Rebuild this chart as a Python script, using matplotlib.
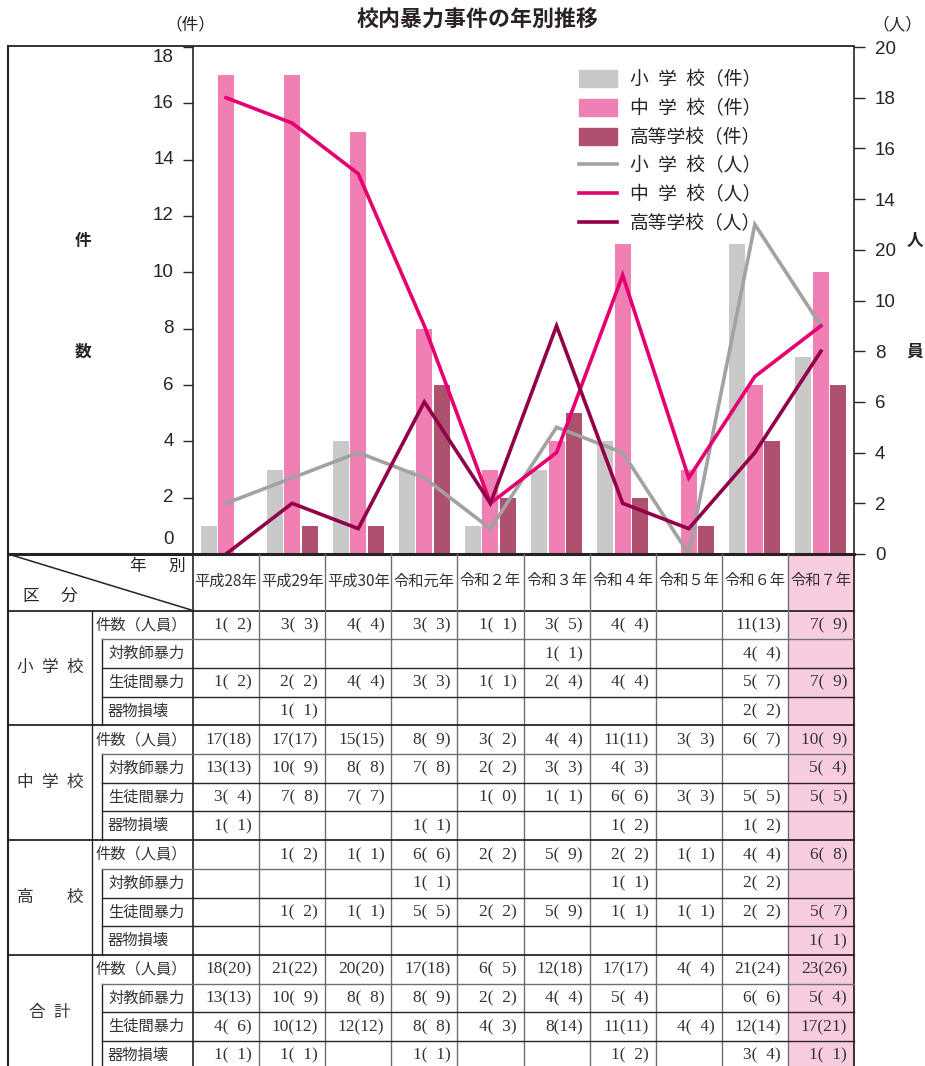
import numpy as np
import matplotlib
matplotlib.use("Agg")
import matplotlib.pyplot as plt
from matplotlib.patches import Patch, Rectangle
from matplotlib.lines import Line2D
from matplotlib.transforms import offset_copy

plt.rcParams['font.family'] = ['Noto Sans CJK JP', 'DejaVu Sans']

# ---------------- data ----------------
years = ["平成28年", "平成29年", "平成30年", "令和元年", "令和２年",
         "令和３年", "令和４年", "令和５年", "令和６年", "令和７年"]

# chart: cases (bars, left axis) and persons (lines, right axis)
elem_cases = [1, 3, 4, 3, 1, 3, 4, 0, 11, 7]
jr_cases = [17, 17, 15, 8, 3, 4, 11, 3, 6, 10]
hs_cases = [0, 1, 1, 6, 2, 5, 2, 1, 4, 6]
elem_persons = [2, 3, 4, 3, 1, 5, 4, 0, 13, 9]
jr_persons = [18, 17, 15, 9, 2, 4, 11, 3, 7, 9]
hs_persons = [0, 2, 1, 6, 2, 9, 2, 1, 4, 8]

left_ticks = [0, 2, 4, 6, 8, 10, 12, 14, 16, 18]
right_ticks = [0, 2, 4, 6, 8, 10, 12, 14, 16, 18, 20]
right_tick_labels = ["0", "2", "4", "6", "8", "10", "20", "14", "16", "18", "20"]

legend_labels = ["小\u2002学\u2002校（件）", "中\u2002学\u2002校（件）", "高等学校（件）",
                 "小\u2002学\u2002校（人）", "中\u2002学\u2002校（人）", "高等学校（人）"]

# table
groups = ["小\u2002学\u2002校", "中\u2002学\u2002校", "高\u3000\u3000校", "合\u2002計"]
sub_rows = ["件数（人員）", "対教師暴力", "生徒間暴力", "器物損壊"]
N = None
elem_tab_cases = [[1, 3, 4, 3, 1, 3, 4, N, 11, 7],
                  [N, N, N, N, N, 1, N, N, 4, N],
                  [1, 2, 4, 3, 1, 2, 4, N, 5, 7],
                  [N, 1, N, N, N, N, N, N, 2, N]]
elem_tab_persons = [[2, 3, 4, 3, 1, 5, 4, N, 13, 9],
                    [N, N, N, N, N, 1, N, N, 4, N],
                    [2, 2, 4, 3, 1, 4, 4, N, 7, 9],
                    [N, 1, N, N, N, N, N, N, 2, N]]
jr_tab_cases = [[17, 17, 15, 8, 3, 4, 11, 3, 6, 10],
                [13, 10, 8, 7, 2, 3, 4, N, N, 5],
                [3, 7, 7, N, 1, 1, 6, 3, 5, 5],
                [1, N, N, 1, N, N, 1, N, 1, N]]
jr_tab_persons = [[18, 17, 15, 9, 2, 4, 11, 3, 7, 9],
                  [13, 9, 8, 8, 2, 3, 3, N, N, 4],
                  [4, 8, 7, N, 0, 1, 6, 3, 5, 5],
                  [1, N, N, 1, N, N, 2, N, 2, N]]
hs_tab_cases = [[N, 1, 1, 6, 2, 5, 2, 1, 4, 6],
                [N, N, N, 1, N, N, 1, N, 2, N],
                [N, 1, 1, 5, 2, 5, 1, 1, 2, 5],
                [N, N, N, N, N, N, N, N, N, 1]]
hs_tab_persons = [[N, 2, 1, 6, 2, 9, 2, 1, 4, 8],
                  [N, N, N, 1, N, N, 1, N, 2, N],
                  [N, 2, 1, 5, 2, 9, 1, 1, 2, 7],
                  [N, N, N, N, N, N, N, N, N, 1]]
tot_tab_cases = [[18, 21, 20, 17, 6, 12, 17, 4, 21, 23],
                 [13, 10, 8, 8, 2, 4, 5, N, 6, 5],
                 [4, 10, 12, 8, 4, 8, 11, 4, 12, 17],
                 [1, 1, N, 1, N, N, 1, N, 3, 1]]
tot_tab_persons = [[20, 22, 20, 18, 5, 18, 17, 4, 24, 26],
                   [13, 9, 8, 9, 2, 4, 4, N, 6, 4],
                   [6, 12, 12, 8, 3, 14, 11, 4, 14, 21],
                   [1, 1, N, 1, N, N, 2, N, 4, 1]]
table_cases = [elem_tab_cases, jr_tab_cases, hs_tab_cases, tot_tab_cases]
table_persons = [elem_tab_persons, jr_tab_persons, hs_tab_persons, tot_tab_persons]

# ---------------- styling / layout ----------------
C_GRAY_BAR = "#c8c9c8"
C_PINK_BAR = "#f080b4"
C_DARK_BAR = "#b0506f"
C_GRAY_LINE = "#a2a2a2"
C_PINK_LINE = "#e4006f"
C_DARK_LINE = "#93004a"
C_HILITE = "#f8cde1"
C_INK = "#2a2222"
C_GRID = "#707070"

W, H = 925, 1066
AX_L, AX_R, AX_T, AX_B = 193, 854, 47, 554
FRAME_L = 8

fig = plt.figure(figsize=(W / 100, H / 100), dpi=100)
ax = fig.add_axes([AX_L / W, 1 - AX_B / H, (AX_R - AX_L) / W, (AX_B - AX_T) / H])
ax2 = ax.twinx()

x = np.arange(len(years))
off, bw = 0.265, 0.242
ax.bar(x - off, elem_cases, width=bw, color=C_GRAY_BAR, zorder=2)
ax.bar(x, jr_cases, width=bw, color=C_PINK_BAR, zorder=2)
ax.bar(x + off, hs_cases, width=bw, color=C_DARK_BAR, zorder=2)

lw = 2.6
ax2.plot(x, elem_persons, color=C_GRAY_LINE, lw=lw, solid_joinstyle="miter")
ax2.plot(x, jr_persons, color=C_PINK_LINE, lw=lw, solid_joinstyle="miter")
ax2.plot(x, hs_persons, color=C_DARK_LINE, lw=lw, solid_joinstyle="miter")

ax.set_xlim(-0.5, len(years) - 0.5)
ax.set_ylim(0, 18)
ax2.set_ylim(0, 20)
ax.set_xticks([])
ax.set_yticks(left_ticks)
ax.tick_params(axis="y", direction="out", length=7.5, width=1.0, color=C_INK, labelleft=False)
ax2.set_yticks(right_ticks)
ax2.set_yticklabels(right_tick_labels, family=["Liberation Sans", "DejaVu Sans"], fontsize=13.5, color=C_INK)
ax2.tick_params(axis="y", direction="out", length=8, width=1.0, color=C_INK, pad=7)
for a in (ax, ax2):
    for s in ("top", "bottom"):
        a.spines[s].set_visible(False)
ax.spines["right"].set_visible(False)
ax2.spines["left"].set_visible(False)
ax.spines["left"].set_color(C_INK)
ax.spines["left"].set_linewidth(1.2)
ax2.spines["right"].set_color(C_INK)
ax2.spines["right"].set_linewidth(1.2)
ax.patch.set_visible(False)

# left tick labels (0 and 18 pulled inside like the original)
ytr = ax.get_yaxis_transform()
for v in left_ticks:
    dy = 14 if v == left_ticks[0] else (-10 if v == left_ticks[-1] else 0)
    tr = offset_copy(ytr, fig=fig, x=-19, y=dy, units="dots")
    ax.text(0, v, str(v), transform=tr, ha="right", va="center", fontsize=13.5,
            family=["Liberation Sans", "DejaVu Sans"], color=C_INK, clip_on=False)

handles = [Patch(color=C_GRAY_BAR), Patch(color=C_PINK_BAR), Patch(color=C_DARK_BAR),
           Line2D([], [], color=C_GRAY_LINE, lw=lw), Line2D([], [], color=C_PINK_LINE, lw=lw),
           Line2D([], [], color=C_DARK_LINE, lw=lw)]
leg = ax2.legend(handles, legend_labels, loc="upper left", bbox_to_anchor=(579 / W, 1 - 69 / H),
                 bbox_transform=fig.transFigure, frameon=False, borderpad=0, borderaxespad=0,
                 handlelength=2.0, handleheight=1.07, handletextpad=0.7, labelspacing=0.42,
                 fontsize=13.5)
for t in leg.get_texts():
    t.set_color(C_INK)

# ---------------- overlay (frame, titles, table) ----------------
ov = fig.add_axes([0, 0, 1, 1], zorder=5)
ov.set_xlim(0, W)
ov.set_ylim(H, 0)
ov.axis("off")
ov.patch.set_visible(False)

ov.text(478, 20, "校内暴力事件の年別推移", ha="center", va="center", fontsize=15.8,
        fontweight="bold", color=C_INK)
ov.text(190, 25, "（件）", ha="center", va="center", fontsize=12, color=C_INK)
ov.text(897, 25, "（人）", ha="center", va="center", fontsize=12, color=C_INK)
for ch, yy in (("件", 241), ("数", 352)):
    ov.text(83, yy, ch, ha="center", va="center", fontsize=12, fontweight="bold", color=C_INK)
for ch, yy in (("人", 241), ("員", 352)):
    ov.text(915, yy, ch, ha="center", va="center", fontsize=12, fontweight="bold", color=C_INK)

# frame
ov.plot([FRAME_L, AX_R], [AX_T - 1, AX_T - 1], color=C_INK, lw=1.3)
ov.plot([FRAME_L, FRAME_L], [AX_T - 1, H + 5], color=C_INK, lw=1.5)
ov.plot([FRAME_L, AX_R], [AX_B, AX_B], color=C_INK, lw=2.2)
ov.plot([AX_R, AX_R], [AX_B, H + 5], color=C_INK, lw=1.3)

ncol = len(years)
CW = (AX_R - AX_L) / ncol
HDR_B = 610.5
RH = 28.7
X_CAT = 92
X_SUB = 102

# highlight last column
ov.add_patch(Rectangle((AX_L + (ncol - 1) * CW, AX_B), CW, H + 10 - AX_B,
                       facecolor=C_HILITE, edgecolor="none", zorder=0))

# header
ov.plot([FRAME_L, AX_L], [AX_B, HDR_B], color=C_INK, lw=1.1)
ov.text(138, 566, "年", ha="center", va="center", fontsize=12, color=C_INK)
ov.text(177, 566, "別", ha="center", va="center", fontsize=12, color=C_INK)
ov.text(31, 596, "区", ha="center", va="center", fontsize=12, color=C_INK)
ov.text(69, 596, "分", ha="center", va="center", fontsize=12, color=C_INK)
for i, yr in enumerate(years):
    ov.text(AX_L + (i + 0.5) * CW, 581, yr, ha="center", va="center", fontsize=11, color="#333333")
ov.plot([FRAME_L, AX_R], [HDR_B, HDR_B], color=C_INK, lw=1.3)

# vertical lines
ov.plot([AX_L, AX_L], [AX_B, H + 5], color=C_INK, lw=1.2)
for i in range(1, ncol):
    xx = AX_L + i * CW
    ov.plot([xx, xx], [AX_B, H + 5], color=C_GRID, lw=1.0)
ov.plot([X_CAT, X_CAT], [HDR_B, H + 5], color=C_INK, lw=1.0)

num_font = ["Liberation Serif", "DejaVu Serif"]
for g, gname in enumerate(groups):
    gtop = HDR_B + g * len(sub_rows) * RH
    gbot = gtop + len(sub_rows) * RH
    if g > 0:
        ov.plot([FRAME_L, AX_R], [gtop, gtop], color=C_INK, lw=1.3)
    ov.plot([X_SUB, X_SUB], [gtop + RH, min(gbot, H + 5)], color=C_INK, lw=1.0)
    for k in range(1, len(sub_rows)):
        yy = gtop + k * RH
        ov.plot([X_SUB, AX_R], [yy, yy], color=(C_GRID if k == 1 else C_INK), lw=1.0)
    ov.text(50, gtop + 2 * RH, gname, ha="center", va="center", fontsize=12, color="#333333")
    for k, sname in enumerate(sub_rows):
        yc = gtop + (k + 0.5) * RH
        xs = 96 if k == 0 else 108
        ov.text(xs, yc, sname, ha="left", va="center", fontsize=11, color="#333333")
        for i in range(ncol):
            c = table_cases[g][k][i]
            p = table_persons[g][k][i]
            if c is None:
                continue
            ps = f"{p}" if p >= 10 else f"\u2007{p}"
            ov.text(AX_L + (i + 1) * CW - 7, yc + 0.5, f"{c}({ps})", ha="right", va="center",
                    fontsize=12.5, family=num_font, color="#333333")

fig.savefig("out.png", dpi=100)
